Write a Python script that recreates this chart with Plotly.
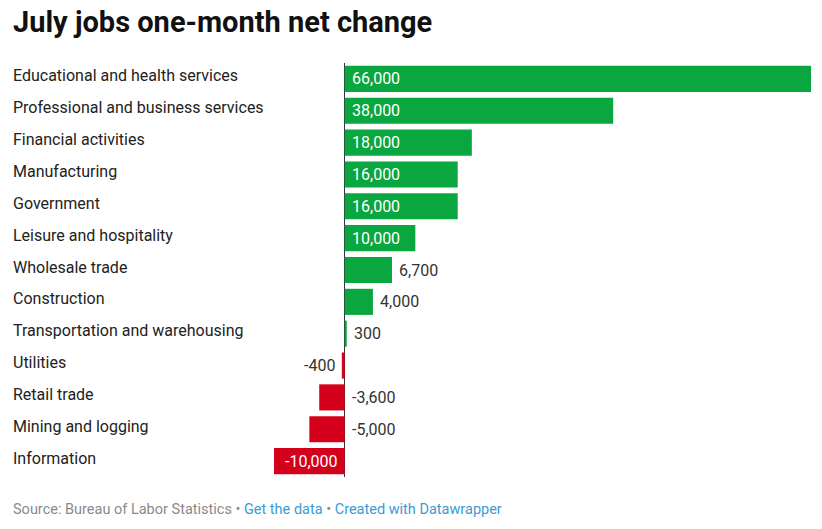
import plotly.graph_objects as go

categories = [
    "Educational and health services",
    "Professional and business services",
    "Financial activities",
    "Manufacturing",
    "Government",
    "Leisure and hospitality",
    "Wholesale trade",
    "Construction",
    "Transportation and warehousing",
    "Utilities",
    "Retail trade",
    "Mining and logging",
    "Information",
]
values = [66000, 38000, 18000, 16000, 16000, 10000, 6700, 4000, 300, -400, -3600, -5000, -10000]

GREEN = "#0aa63f"
RED = "#d5001b"
FONT = "Roboto"

W, H = 822, 529
ml, mr, mt, mb = 274, 11, 63, 52

def px_x(rx):
    return (rx - ml) / (W - ml - mr)

def px_y(ry):
    return 1 - (ry - mt) / (H - mt - mb)

colors = [GREEN if v >= 0 else RED for v in values]

fig = go.Figure(go.Bar(
    x=values, y=categories, orientation="h",
    marker=dict(color=colors, line=dict(width=0)),
    width=0.82, hoverinfo="skip",
))

annotations = []
for c, v in zip(categories, values):
    annotations.append(dict(
        x=px_x(11), xref="paper", y=c, yref="y",
        text=c, showarrow=False, xanchor="left", yanchor="middle", yshift=3,
        font=dict(family=FONT, size=16, color="#222222"),
    ))
    txt = f"{v:,}"
    if abs(v) >= 10000:
        ax, anchor, shift, col = 0, ("left" if v > 0 else "right"), (5 if v > 0 else -5), "white"
    elif v >= 0:
        ax, anchor, shift, col = v, "left", 5, "#333333"
    elif abs(v) < 1000:
        ax, anchor, shift, col = v, "right", -5, "#333333"
    else:
        ax, anchor, shift, col = 0, "left", 5, "#333333"
    annotations.append(dict(
        x=ax, xref="x", y=c, yref="y", text=txt, showarrow=False,
        xanchor=anchor, yanchor="middle", xshift=shift, yshift=0,
        font=dict(family=FONT, size=16, color=col),
    ))

annotations.append(dict(
    x=px_x(11), xref="paper", y=px_y(22), yref="paper", xanchor="left", yanchor="middle",
    text="<b>July jobs one-month net change</b>", showarrow=False,
    font=dict(family=FONT, size=29, color="#111111"),
))
annotations.append(dict(
    x=px_x(11), xref="paper", y=px_y(510), yref="paper", xanchor="left", yanchor="middle",
    text="<span style='color:#8a8a8a'>Source: Bureau of Labor Statistics • </span>"
         "<span style='color:#3a9bd5'>Get the data</span>"
         "<span style='color:#8a8a8a'> • </span>"
         "<span style='color:#3a9bd5'>Created with Datawrapper</span>",
    showarrow=False, font=dict(family=FONT, size=14.5, color="#8a8a8a"),
))

fig.update_layout(
    width=W, height=H,
    margin=dict(l=ml, r=mr, t=mt, b=mb),
    paper_bgcolor="white", plot_bgcolor="white",
    showlegend=False,
    bargap=0.18,
    xaxis=dict(range=[-10000, 66000], showgrid=False, showticklabels=False, ticks="",
               zeroline=True, zerolinecolor="#333333", zerolinewidth=1, fixedrange=True),
    yaxis=dict(autorange="reversed", showgrid=False, showticklabels=False, ticks="",
               zeroline=False, fixedrange=True),
    annotations=annotations,
    font=dict(family=FONT),
)

fig.write_html(
    "out.html",
    config={"displayModeBar": False},
    post_script="document.body.style.margin='0';document.body.style.overflow='hidden';",
)
